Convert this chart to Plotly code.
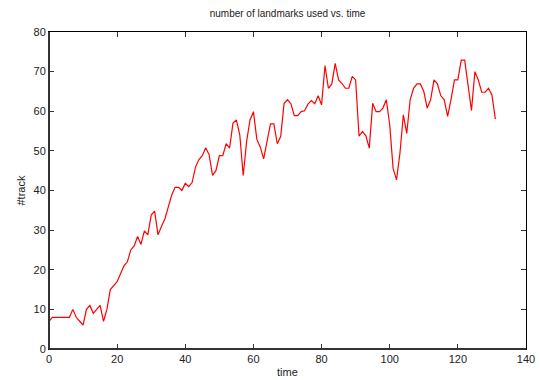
import plotly.graph_objects as go

time = list(range(132))
track = [7, 8, 8, 8, 8, 8, 8, 10, 8, 7,
         6, 10, 11, 9, 10, 11, 7, 10, 15, 16,
         17, 19, 21, 22, 25, 26, 28.4, 26.4, 29.8, 28.8,
         33.8, 34.8, 28.8, 30.9, 32.8, 35.8, 38.8, 40.8, 40.8, 40,
         41.8, 41, 42, 45.9, 47.8, 48.8, 50.8, 49, 43.8, 45,
         48.8, 48.8, 51.8, 50.7, 57, 57.8, 54, 43.8, 52.4, 57.8,
         59.9, 52.9, 51, 48, 52.8, 56.8, 56.8, 51.8, 53.6, 62,
         62.9, 61.9, 58.9, 58.9, 59.9, 60.1, 61.8, 62.7, 61.9, 63.9,
         61.6, 71.5, 65.8, 66.9, 72.1, 67.9, 67, 65.8, 65.8, 68.8,
         67.9, 53.7, 54.9, 53.8, 50.7, 62, 59.9, 59.9, 60.8, 62.9,
         56.6, 45.6, 42.7, 49.4, 59.1, 54.4, 62.9, 65.8, 66.9, 66.9,
         65, 60.8, 62.9, 67.9, 66.9, 63.9, 62.9, 58.7, 63, 67.9,
         67.9, 72.9, 72.9, 66.7, 60.2, 70, 67.9, 64.8, 64.8, 65.8,
         64.1, 58]

x_ticks = [0, 20, 40, 60, 80, 100, 120, 140]
y_ticks = [0, 10, 20, 30, 40, 50, 60, 70, 80]

W, H = 540, 380
L, R, T, B = 49, 14, 32, 31
PW, PH = W - L - R, H - T - B

fig = go.Figure()
fig.add_trace(go.Scatter(x=time, y=track, mode="lines",
                         line=dict(color="#ff0000", width=1.2),
                         showlegend=False))

font = dict(family="Liberation Sans, Arial, sans-serif", size=11, color="#222222")

axis_common = dict(showgrid=False, zeroline=False, showline=True,
                   linecolor="#000000", linewidth=1, mirror="ticks",
                   ticks="inside", ticklen=5, tickcolor="#333333",
                   tickwidth=1, tickfont=font, automargin=False)

fig.update_xaxes(range=[0, 140], tickvals=x_ticks, **axis_common)
fig.update_yaxes(range=[0, 80], tickvals=y_ticks, **axis_common)

# thicker left / bottom axis lines like the reference
fig.add_shape(type="line", xref="paper", yref="paper", x0=0, x1=0, y0=0, y1=1,
              line=dict(color="#333333", width=2))
fig.add_shape(type="line", xref="paper", yref="paper", x0=0, x1=1, y0=0, y1=0,
              line=dict(color="#333333", width=2))

fig.add_annotation(text="time", xref="paper", yref="paper",
                   x=0.5, y=-(372 - (T + PH)) / PH, xanchor="center", yanchor="middle",
                   showarrow=False, font=font)
fig.add_annotation(text="#track", xref="paper", yref="paper",
                   x=(20 - L) / PW, y=0.5, xanchor="center", yanchor="middle",
                   textangle=-90, showarrow=False, font=font)

fig.update_layout(
    width=W, height=H,
    margin=dict(l=L, r=R, t=T, b=B),
    paper_bgcolor="white", plot_bgcolor="white",
    font=font,
    title=dict(text="number of landmarks used vs. time", x=0.5, xref="paper",
               y=1 - 13 / H, yanchor="middle",
               font=dict(family="Liberation Sans, Arial, sans-serif", size=10, color="#222222")),
)

fig.write_html("out.html")
